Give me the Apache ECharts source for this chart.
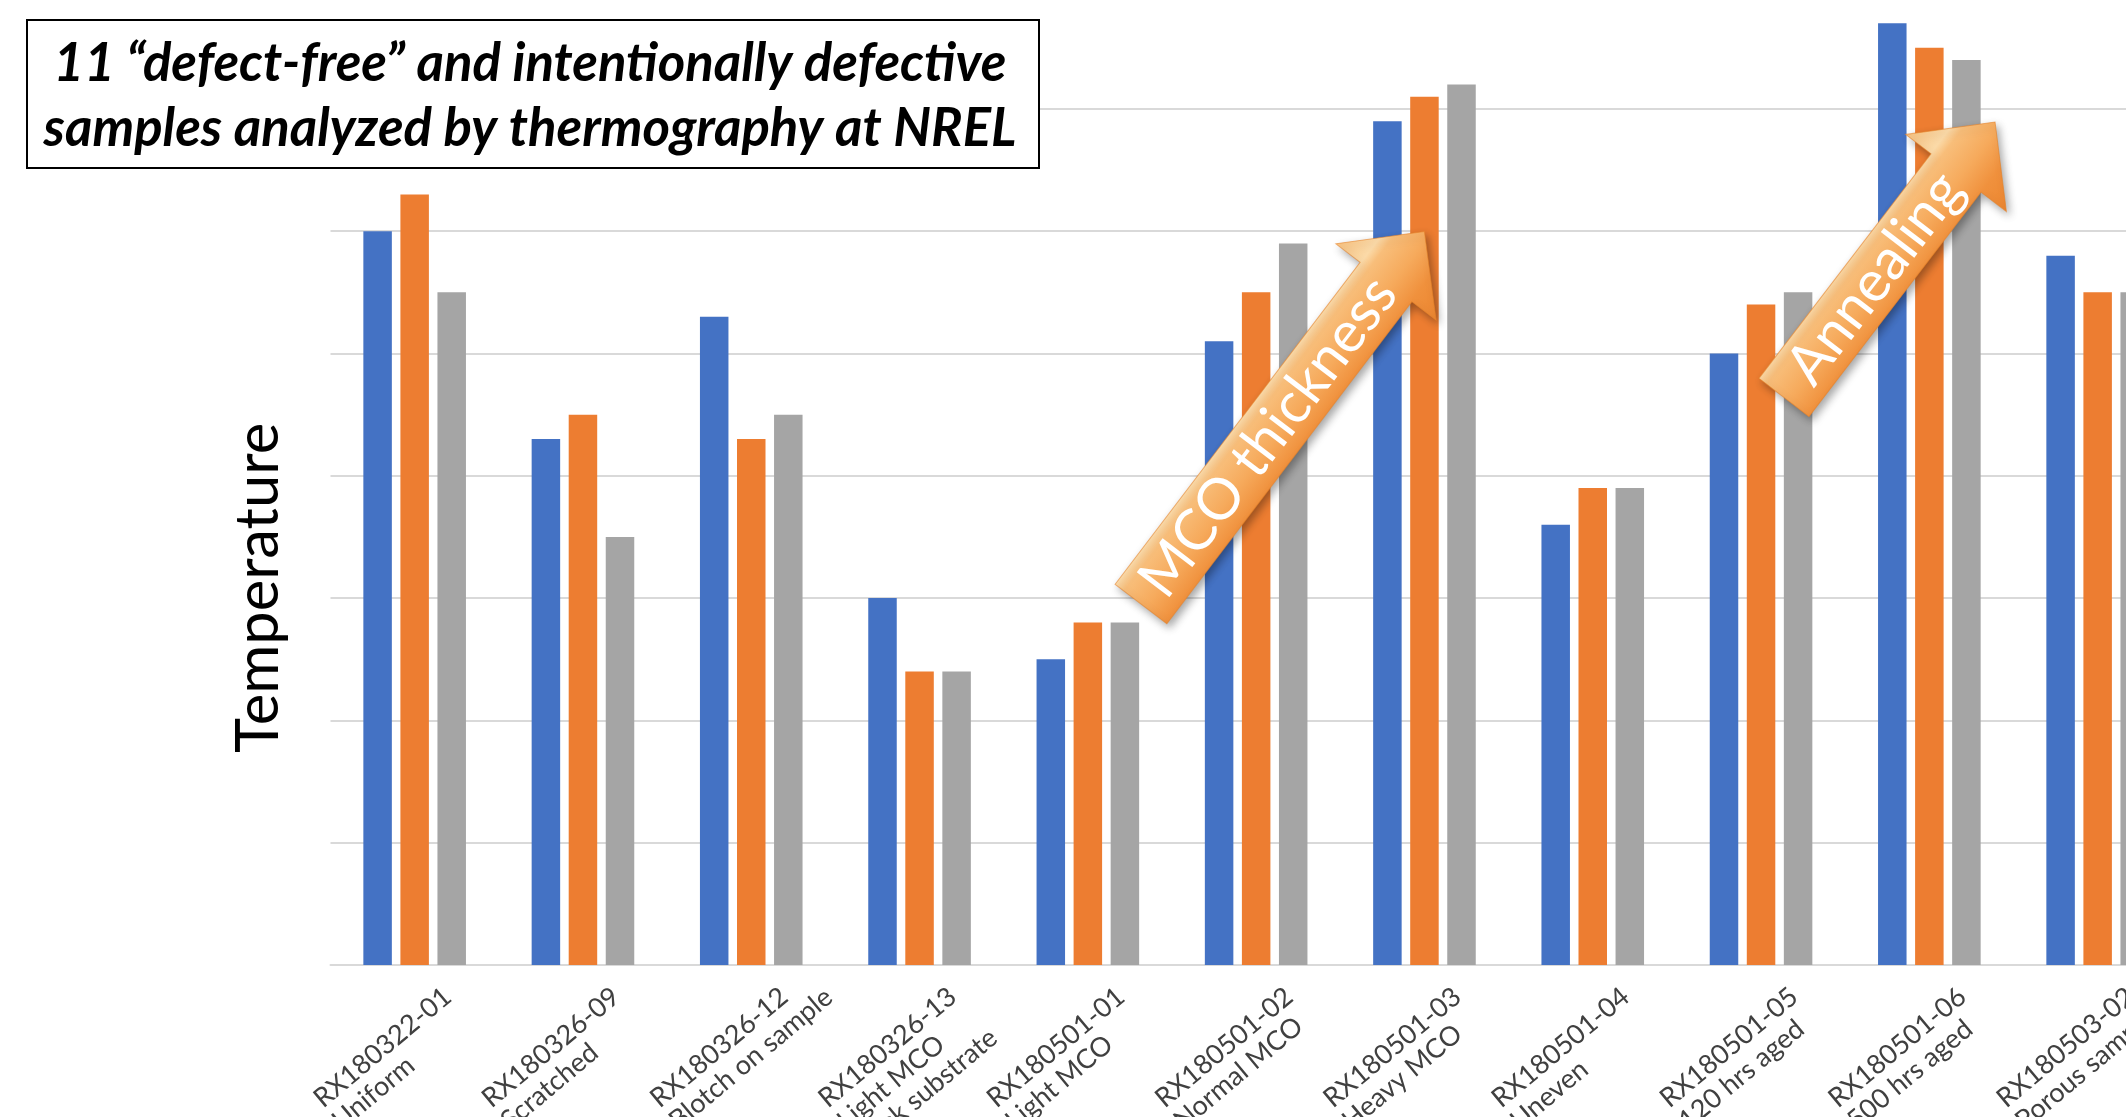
<!DOCTYPE html>
<html>
<head>
<meta charset="utf-8">
<script src="https://cdn.jsdelivr.net/npm/echarts@6/dist/echarts.min.js"></script>
<style>
  html, body { margin: 0; padding: 0; background: #ffffff; }
  #chart { width: 2126px; height: 1117px; }
</style>
</head>
<body>
<div id="chart"></div>
<script>
// ---- data ----
const categories = [
  'RX180322-01\nUniform',
  'RX180326-09\nScratched',
  'RX180326-12\nBlotch on sample',
  'RX180326-13\nLight MCO\nthick substrate',
  'RX180501-01\nLight MCO',
  'RX180501-02\nNormal MCO',
  'RX180501-03\nHeavy MCO',
  'RX180501-04\nUneven',
  'RX180501-05\n120 hrs aged',
  'RX180501-06\n500 hrs aged',
  'RX180503-02\nPorous sample'
];
const seriesNames = ['Run 1', 'Run 2', 'Run 3'];
const run1 = [6.0, 4.3, 5.3, 3.0, 2.5, 5.1, 6.9, 3.6, 5.0, 7.7, 5.8];
const run2 = [6.3, 4.5, 4.3, 2.4, 2.8, 5.5, 7.1, 3.9, 5.4, 7.5, 5.5];
const run3 = [5.5, 3.5, 4.5, 2.4, 2.8, 5.9, 7.2, 3.9, 5.5, 7.4, 5.5];
const titleLines = [
  '11 \u201cdefect-free\u201d and intentionally defective',
  'samples analyzed by thermography at NREL'
];
const yAxisTitle = 'Temperature';
const arrowLabels = ['MCO thickness', 'Annealing'];

// ---- layout ----
const W = 2126, H = 1117;
const baseY = 965, unitPx = 122.3, yMax = 8;
const plotLeft = 330.5, catW = 168.3;
const colors = ['#4472C4', '#ED7D31', '#A5A5A5'];

const measureCtx = document.createElement('canvas').getContext('2d');
function fitSize(text, style, target) {
  measureCtx.font = style + ' 100px Lato';
  return 100 * target / measureCtx.measureText(text).width;
}

const titleSize = fitSize(titleLines[0], 'italic bold', 953);
const yTitleSize = fitSize(yAxisTitle, 'normal', 330);
const arrowFont = fitSize(arrowLabels[0], 'normal', 385);

const arrowFill = {
  type: 'linear', x: 0, y: 0, x2: 0, y2: 1,
  colorStops: [
    { offset: 0, color: '#F9C27F' },
    { offset: 0.25, color: '#FBDAA8' },
    { offset: 0.33, color: '#F8BE7A' },
    { offset: 0.55, color: '#F6AA5C' },
    { offset: 0.75, color: '#F0913D' },
    { offset: 1, color: '#EC8630' }
  ]
};

// Block arrow pointing from tail to tip, with a label running along its shaft
function arrow(id, tail, headBase, tip, shaftHalf, headHalf, label, labelAt) {
  const dx = headBase[0] - tail[0], dy = headBase[1] - tail[1];
  const len = Math.hypot(dx, dy);
  const headLen = Math.hypot(tip[0] - headBase[0], tip[1] - headBase[1]);
  const ang = Math.atan2(-dy, dx);
  return {
    type: 'group', id: id, x: tail[0], y: tail[1], rotation: ang, z: 50,
    children: [
      {
        type: 'polygon', z: 50,
        shape: { points: [
          [0, -shaftHalf], [len, -shaftHalf], [len, -headHalf], [len + headLen, 0],
          [len, headHalf], [len, shaftHalf], [0, shaftHalf]
        ] },
        style: {
          fill: arrowFill, stroke: 'rgba(230,130,40,0.6)', lineWidth: 1,
          shadowBlur: 8, shadowColor: 'rgba(0,0,0,0.35)', shadowOffsetX: 3, shadowOffsetY: 4
        }
      },
      {
        type: 'text', z: 51, x: labelAt, y: 0,
        style: {
          text: label, fill: '#ffffff', align: 'center', verticalAlign: 'middle',
          font: 'normal ' + arrowFont.toFixed(1) + 'px Lato'
        }
      }
    ]
  };
}

const baseGraphics = [
  {
    type: 'rect', id: 'titleBox', z: 40,
    shape: { x: 27, y: 20, width: 1012, height: 148 },
    style: { fill: '#ffffff', stroke: '#000000', lineWidth: 2 }
  },
  {
    type: 'text', id: 'title1', z: 41, x: 530, y: 64,
    style: {
      text: titleLines[0], fill: '#000000', align: 'center', verticalAlign: 'middle',
      font: 'italic bold ' + titleSize.toFixed(1) + 'px Lato'
    }
  },
  {
    type: 'text', id: 'title2', z: 41, x: 530, y: 129,
    style: {
      text: titleLines[1], fill: '#000000', align: 'center', verticalAlign: 'middle',
      font: 'italic bold ' + titleSize.toFixed(1) + 'px Lato'
    }
  },
  {
    type: 'text', id: 'yTitle', z: 41, x: 259, y: 588, rotation: Math.PI / 2,
    style: {
      text: yAxisTitle, fill: '#000000', align: 'center', verticalAlign: 'middle',
      font: 'normal ' + yTitleSize.toFixed(1) + 'px Lato'
    }
  },
  arrow('arrowMco', [1141, 604], [1386, 282], [1425, 232], 32.5, 63, arrowLabels[0], 210),
  arrow('arrowAnneal', [1784, 397.5], [1956, 173], [1995, 122], 31.5, 63.5, arrowLabels[1], 150)
];

const chart = echarts.init(document.getElementById('chart'), null, { renderer: 'canvas' });

chart.setOption({
  animation: false,
  backgroundColor: '#ffffff',
  grid: {
    left: plotLeft,
    right: W - (plotLeft + categories.length * catW),
    top: baseY - yMax * unitPx,
    bottom: H - baseY,
    containLabel: false,
    outerBoundsMode: 'none'
  },
  xAxis: {
    type: 'category',
    data: categories,
    axisLine: { lineStyle: { color: '#D9D9D9', width: 2 } },
    axisTick: { show: false },
    axisLabel: { show: false }
  },
  yAxis: {
    type: 'value',
    min: 0,
    max: yMax,
    interval: 1,
    axisLabel: { show: false },
    axisLine: { show: false },
    axisTick: { show: false },
    splitLine: { lineStyle: { color: '#D9D9D9', width: 2 } }
  },
  series: [run1, run2, run3].map(function (d, i) {
    return {
      name: seriesNames[i],
      type: 'bar',
      data: d,
      barWidth: 28.5,
      barGap: '30%',
      itemStyle: { color: colors[i] },
      z: 2
    };
  }),
  graphic: baseGraphics
});

// Category labels: slanted text, lines left-aligned, the end of the first
// line hanging just right of and below each category's centre.
(function drawCategoryLabels() {
  const y0 = chart.convertToPixel({ yAxisIndex: 0 }, 0);
  const fs = 27, lh = 29, ang = 40 * Math.PI / 180;
  const cs = Math.cos(ang), sn = Math.sin(ang);
  const font = 'normal ' + fs + 'px Lato';
  measureCtx.font = font;
  const items = [];
  categories.forEach(function (cat, i) {
    const cx = chart.convertToPixel({ xAxisIndex: 0 }, i);
    const lines = cat.split('\n');
    const L1 = measureCtx.measureText(lines[0]).width;
    const ex = cx + 33, ey = y0 + 28;
    const sx = ex - L1 * cs, sy = ey + L1 * sn;
    lines.forEach(function (ln, k) {
      items.push({
        type: 'text', id: 'cat' + i + '_' + k, z: 30,
        x: sx + k * lh * sn, y: sy + k * lh * cs, rotation: ang,
        style: { text: ln, fill: '#404040', font: font, align: 'left', verticalAlign: 'middle' }
      });
    });
  });
  chart.setOption({ graphic: baseGraphics.concat(items) });
})();
</script>
</body>
</html>
